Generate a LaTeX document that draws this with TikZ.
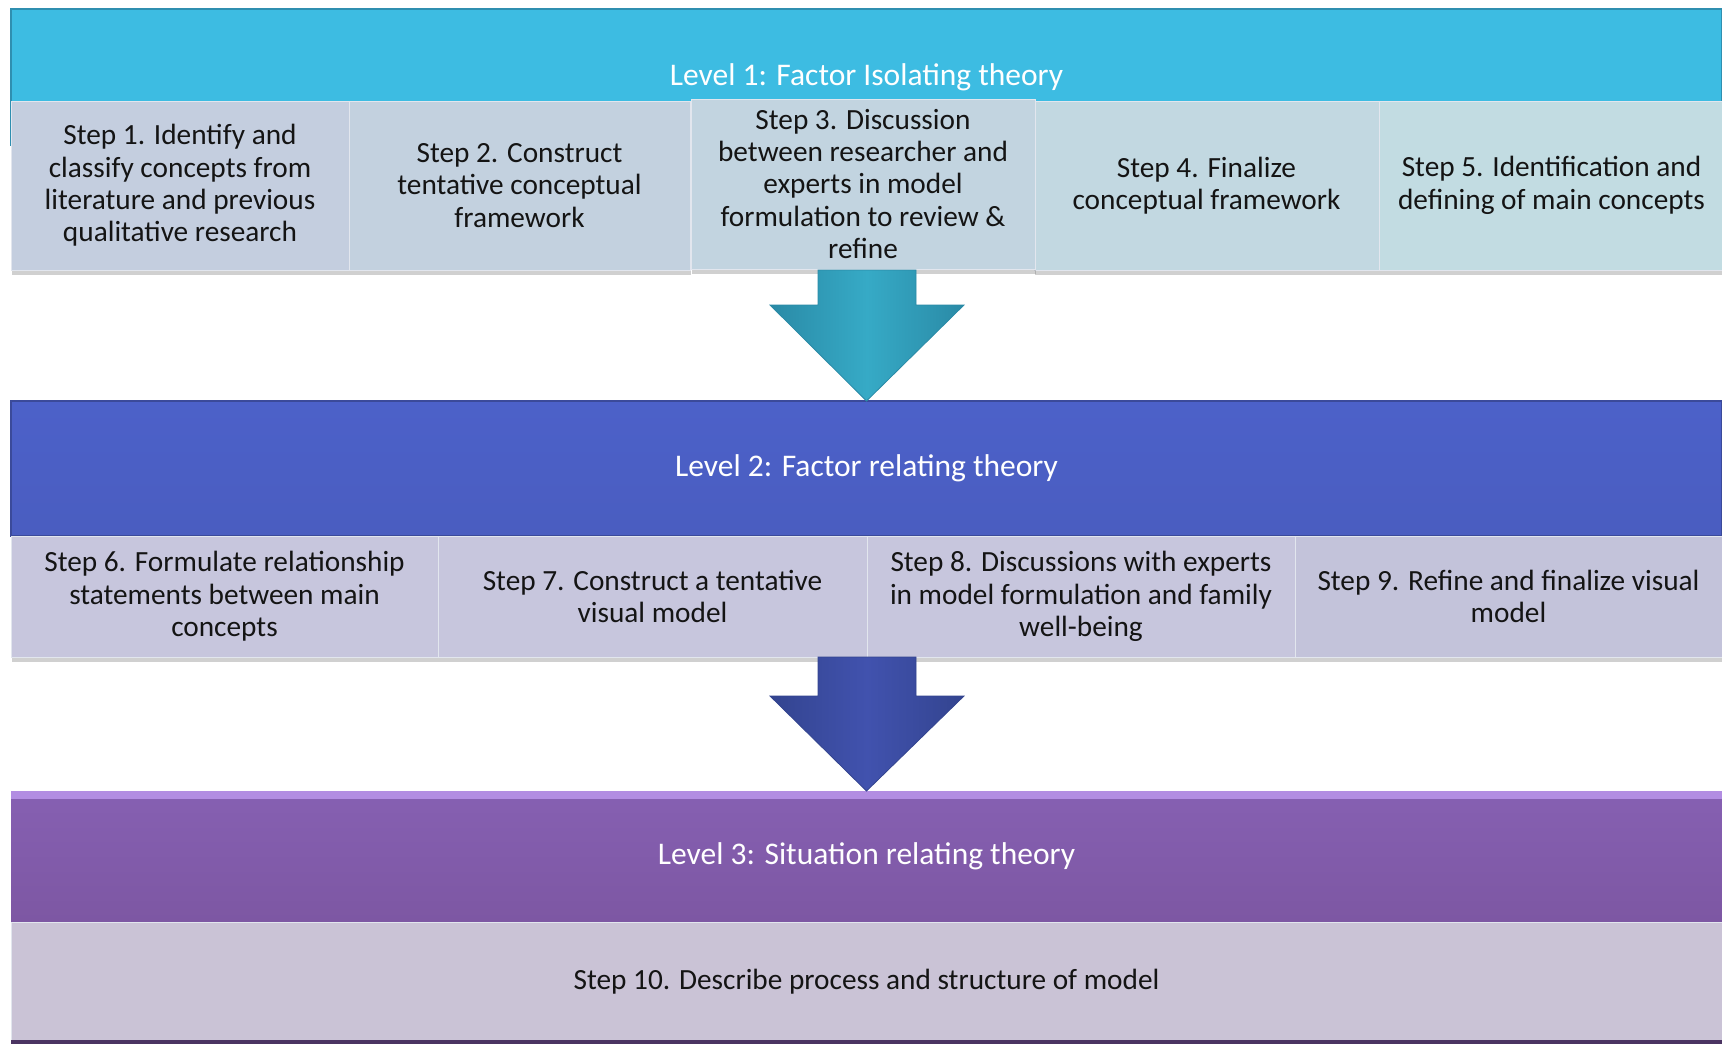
\documentclass[tikz,border=0pt]{standalone}
\usepackage{fontspec}
\setmainfont{Carlito}
\usetikzlibrary{calc,shadows}
\definecolor{bandone}{HTML}{3DBCE2}
\definecolor{bandoneedge}{HTML}{2F8FB0}
\definecolor{bandtwo}{HTML}{4C61C9}
\definecolor{bandtwob}{HTML}{4A5DC0}
\definecolor{bandthree}{HTML}{8660B2}
\definecolor{bandthreeb}{HTML}{7D57A3}
\definecolor{bandthreetop}{HTML}{B28DE2}
\definecolor{sa}{HTML}{C4CEDF}
\definecolor{sb}{HTML}{C3D1DF}
\definecolor{sc}{HTML}{C2D4E0}
\definecolor{sd}{HTML}{C2D8E1}
\definecolor{se}{HTML}{C2DCE2}
\definecolor{rowtwo}{HTML}{C7C6DD}
\definecolor{rowtwob}{HTML}{C3C3DA}
\definecolor{stepten}{HTML}{CAC3D6}
\definecolor{arrowone}{HTML}{36AAC6}
\definecolor{arrowoneedge}{HTML}{2A8AA6}
\definecolor{arrowtwo}{HTML}{4152AE}
\definecolor{arrowtwoedge}{HTML}{33448F}
\definecolor{stepline}{HTML}{E2E6EE}
\begin{document}
\begin{tikzpicture}[x=1pt,y=-1pt,
  band/.style={anchor=north west, inner sep=0pt, outer sep=0pt, text=white,
    font=\fontsize{31.5}{36}\selectfont, minimum width=1711pt},
  stepbox/.style={anchor=north west, inner sep=0pt, outer sep=0pt, align=center,
    text=black!92, font=\fontsize{29.3}{32.4}\selectfont, draw=stepline, line width=0.8pt,
    drop shadow={shadow xshift=1pt, shadow yshift=-5pt, opacity=0.3, fill=black!60}},
  blockarrow/.style={line width=0.8pt, line join=miter}
]
\useasboundingbox (0,0) rectangle (1722,1045);
\fill[white] (0,0) rectangle (1722,1045);

% Level bands
\node[band, minimum height=136pt, top color=bandone, bottom color=bandone, draw=bandoneedge, line width=1.5pt] (L1) at (11,9) {Level 1: Factor Isolating theory};
\node[band, minimum height=135pt, top color=bandtwo, bottom color=bandtwob, draw=bandtwob!80!black, line width=1.5pt] (L2) at (11,401) {Level 2: Factor relating theory};
\node[band, minimum height=131pt, top color=bandthree, bottom color=bandthreeb] (L3) at (11,791) {Level 3: Situation relating theory};
\fill[bandthreetop] (L3.north west) rectangle ($(L3.north east)+(0,8)$);

% Row 1 steps
\node[stepbox, fill=sa, minimum width=338pt, minimum height=169pt] (S1) at (11,101)
  {Step 1. Identify and\\classify concepts from\\literature and previous\\qualitative research};
\node[stepbox, fill=sb, minimum width=341pt, minimum height=169pt] (S2) at (349,101)
  {Step 2. Construct\\tentative conceptual\\framework};
\node[stepbox, fill=sd, minimum width=345pt, minimum height=169pt] (S4) at (1034,101)
  {Step 4. Finalize\\conceptual framework};
\node[stepbox, fill=se, minimum width=345pt, minimum height=169pt] (S5) at (1379,101)
  {Step 5. Identification and\\defining of main concepts};
\node[stepbox, fill=sc, minimum width=344pt, minimum height=170pt] (S3) at (691,99)
  {Step 3. Discussion\\between researcher and\\experts in model\\formulation to review \&\\refine};

% Arrow 1
\coordinate (a1) at (867,270);
\path[blockarrow, left color=arrowoneedge, right color=arrowoneedge, middle color=arrowone, draw=arrowoneedge]
  ($(a1)+(-49,0)$) -- ($(a1)+(49,0)$) -- ($(a1)+(49,35)$) -- ($(a1)+(97,35)$)
  -- (L2.north) -- ($(a1)+(-97,35)$) -- ($(a1)+(-49,35)$) -- cycle;

% Row 2 steps
\node[stepbox, fill=rowtwo, minimum width=427pt, minimum height=121pt] (S6) at (11,536)
  {Step 6. Formulate relationship\\statements between main\\concepts};
\node[stepbox, fill=rowtwo, minimum width=429pt, minimum height=121pt] (S7) at (438,536)
  {Step 7. Construct a tentative\\visual model};
\node[stepbox, fill=rowtwo, minimum width=428pt, minimum height=121pt] (S8) at (867,536)
  {Step 8. Discussions with experts\\in model formulation and family\\well-being};
\node[stepbox, fill=rowtwob, minimum width=427pt, minimum height=121pt] (S9) at (1295,536)
  {Step 9. Refine and finalize visual\\model};

% Arrow 2
\coordinate (a2) at (867,657);
\path[blockarrow, left color=arrowtwoedge, right color=arrowtwoedge, middle color=arrowtwo, draw=arrowtwoedge]
  ($(a2)+(-49,0)$) -- ($(a2)+(49,0)$) -- ($(a2)+(49,39)$) -- ($(a2)+(97,39)$)
  -- (L3.north) -- ($(a2)+(-97,39)$) -- ($(a2)+(-49,39)$) -- cycle;

% Step 10
\node[anchor=north west, inner sep=0pt, outer sep=0pt, fill=stepten, draw=stepline, line width=0.8pt,
  minimum width=1711pt, minimum height=119pt, text=black!92, font=\fontsize{29.3}{32.4}\selectfont] (S10) at (11,922)
  {Step 10. Describe process and structure of model};
\fill[black!40!bandthreeb] ($(S10.south west)+(0,-1)$) rectangle ($(S10.south east)+(0,3)$);
\end{tikzpicture}
\end{document}
